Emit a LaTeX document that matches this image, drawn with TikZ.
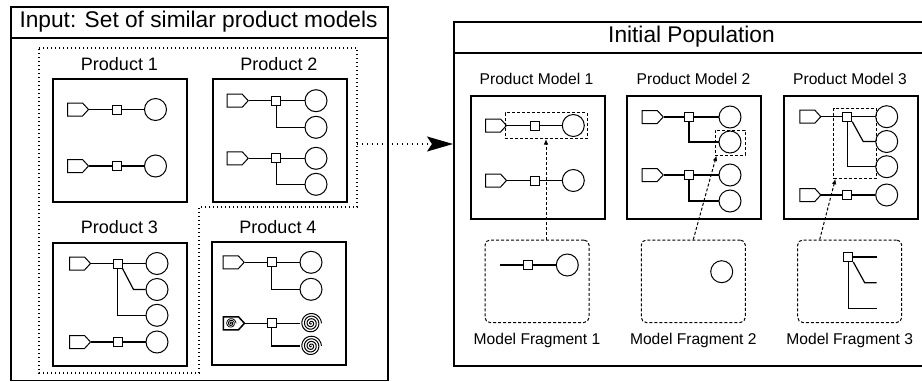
\documentclass[tikz,border=0pt]{standalone}
\usepackage{fontspec}
\setmainfont{Liberation Sans}
\usetikzlibrary{arrows.meta,shapes.symbols}

\tikzset{
  x=1pt, y=-1pt,
  panel/.style={draw, line width=1.5pt, rectangle, inner sep=0pt, anchor=north west},
  prodbox/.style={draw, line width=1.5pt, rectangle, inner sep=0pt,
    minimum width=134pt, minimum height=123pt, anchor=north west},
  port/.style={signal, signal to=east, signal pointer angle=95, draw, line width=1pt,
    minimum width=21pt, minimum height=13pt, inner sep=0pt, anchor=west},
  blk/.style={rectangle, draw, line width=1pt, minimum size=9pt, inner sep=0pt},
  res/.style={circle, draw, line width=1pt, minimum size=22pt, inner sep=0pt},
  coil/.style={circle, minimum size=22pt, inner sep=0pt,
    path picture={\begin{scope}[shift={(path picture bounding box.center)}]
      \draw[line width=1pt] plot[domain=0:1440, samples=180, smooth, variable=\t]
        (\t:{10.4*\t/1440});
    \end{scope}}},
  coilport/.style={port, line width=1.5pt,
    path picture={\begin{scope}[shift={([xshift=7.5pt]path picture bounding box.west)}]
      \draw[line width=0.8pt] plot[domain=0:1080, samples=140, smooth, variable=\t]
        (\t:{5*\t/1080});
    \end{scope}}},
  wire/.style={line width=1.2pt},
  titletext/.style={font=\fontsize{22.7}{27}\selectfont},
  plabel/.style={font=\fontsize{18}{21}\selectfont},
  mlabel/.style={font=\fontsize{15.6}{18}\selectfont},
  dotline/.style={line width=1.4pt, dash pattern=on 1.4pt off 2.6pt},
  dotarrow/.style={line width=1.4pt, dash pattern=on 1.4pt off 3.6pt,
    -{Stealth[length=26pt,width=15pt,inset=5pt]}},
  dashline/.style={line width=1pt, dash pattern=on 3pt off 2pt},
  selbox/.style={dashline, draw, rectangle, inner sep=0pt},
  fragbox/.style={dashline, draw, rectangle, rounded corners=5pt, inner sep=0pt,
    minimum width=104pt, minimum height=82.5pt},
  link/.style={dashline, -{Latex[length=5.5pt,width=4.5pt]}},
}

% one input -> block -> load chain
\newcommand\straightrow[5]{% prefix, y, port x, block x, load x
  \node[port] (#1p) at (#3,#2) {};
  \node[blk] (#1b) at (#4,#2) {};
  \node[res] (#1c) at (#5,#2) {};
  \draw[wire] (#1p.east) -- (#1b.west) (#1b.east) -- (#1c.west);
}
% right-angled branch from a block to a load
\newcommand\elbow[2]{\draw[wire] (#1.south) |- (#2.west);}
% slanted branch from a block to a load
\newcommand\slant[2]{\draw[wire] (#1.south east) -- ([xshift=-12pt]#2.west) -- (#2.west);}

\begin{document}
\begin{tikzpicture}
\useasboundingbox (0,0) rectangle (922,381);

% ---------------- input panel ----------------
\node[panel, minimum width=377pt, minimum height=373.5pt] (inpanel) at (10,6) {};
\draw[line width=1.5pt] (10,38) -- (387,38);
\node[titletext] (intitle) at (198.5,22) {Input: Set of similar product models};

% family of similar products
\draw[dotline] (39,48) -- (357,48) -- (357,207) -- (199,207) -- (199,373) -- (39,373) -- cycle;

% Product 1
\node[plabel] (lab1) at (119.5,64) {Product 1};
\begin{scope}[shift={(52,78)}]
  \node[prodbox] (prod1) at (0,0) {};
  \straightrow{pa}{31.5}{15}{65}{103.5}
  \straightrow{pb}{88}{15}{65}{103.5}
\end{scope}

% Product 2
\node[plabel] (lab2) at (279,64) {Product 2};
\begin{scope}[shift={(212,78)}]
  \node[prodbox] (prod2) at (0,0) {};
  \straightrow{qa}{22.7}{14.7}{64.3}{104}
  \node[res] (qa2) at (104,49.3) {};
  \elbow{qab}{qa2}
  \straightrow{qb}{80.3}{14.7}{64.3}{104}
  \node[res] (qb2) at (104,106.3) {};
  \elbow{qbb}{qb2}
\end{scope}

% Product 3
\node[plabel] (lab3) at (119.5,226.7) {Product 3};
\begin{scope}[shift={(52,242)}]
  \node[prodbox] (prod3) at (0,0) {};
  \straightrow{ra}{21.5}{17}{65.5}{105}
  \node[res] (ra2) at (105,47.5) {};
  \node[res] (ra3) at (105,73.3) {};
  \slant{rab}{ra2}
  \elbow{rab}{ra3}
  \straightrow{rb}{100}{17}{65.5}{105}
\end{scope}

% Product 4
\node[plabel] (lab4) at (278,226.7) {Product 4};
\begin{scope}[shift={(211,241)}]
  \node[prodbox] (prod4) at (0,0) {};
  \straightrow{sa}{21.3}{11.7}{60.7}{100}
  \node[res] (sa2) at (100,48.3) {};
  \elbow{sab}{sa2}
  \node[coilport] (sbp) at (11.7,82.3) {};
  \node[blk] (sbb) at (60.7,82.3) {};
  \node[coil] (sbc) at (100,82.3) {};
  \node[coil] (sb2) at (100,105) {};
  \draw[wire] (sbp.east) -- (sbb.west) (sbb.east) -- (sbc.west);
  \elbow{sbb}{sb2}
\end{scope}

% ---------------- initial population panel ----------------
\node[panel, minimum width=477pt, minimum height=344pt] (poppanel) at (453,21) {};
\draw[line width=1.5pt] (453,53) -- (930,53);
\node[titletext] (poptitle) at (691.5,37) {Initial Population};

\coordinate (setedge) at (357,144);
\draw[dotarrow] (setedge) -- (setedge -| poppanel.west);

% Product Model 1
\node[mlabel] (mlab1) at (536.5,79.3) {Product Model 1};
\begin{scope}[shift={(470,95)}]
  \node[prodbox] (pm1) at (0,0) {};
  \straightrow{ua}{30.5}{15}{64.7}{103.3}
  \straightrow{ub}{85.5}{15}{64.7}{103.3}
\end{scope}
\node[selbox, minimum width=82pt, minimum height=26pt] (sel1) at (546,125.5) {};

% Product Model 2
\node[mlabel] (mlab2) at (693.5,79.3) {Product Model 2};
\begin{scope}[shift={(626,95)}]
  \node[prodbox] (pm2) at (0,0) {};
  \straightrow{va}{22}{15.7}{63}{104}
  \node[res] (va2) at (104,47) {};
  \elbow{vab}{va2}
  \straightrow{vb}{80}{15.7}{63}{104}
  \node[res] (vb2) at (104,106) {};
  \elbow{vbb}{vb2}
\end{scope}
\node[selbox, minimum width=30pt, minimum height=25pt] (sel2) at (730,142.5) {};

% Product Model 3
\node[mlabel] (mlab3) at (850,79.3) {Product Model 3};
\begin{scope}[shift={(783,95)}]
  \node[prodbox] (pm3) at (0,0) {};
  \straightrow{wa}{21.7}{16.3}{64.3}{103.7}
  \node[res] (wa2) at (103.7,46.5) {};
  \node[res] (wa3) at (103.7,71.7) {};
  \slant{wab}{wa2}
  \elbow{wab}{wa3}
  \straightrow{wb}{100}{16.3}{64.3}{103.7}
\end{scope}
\node[selbox, minimum width=42.7pt, minimum height=70pt] (sel3) at (855.3,143.3) {};

% Model fragments
\node[fragbox] (mf1) at (537,281.25) {};
\node[mlabel] (flab1) at (537,340) {Model Fragment 1};
\coordinate (f1end) at (500,265);
\node[blk] (f1b) at (528.3,265) {};
\node[res] (f1c) at (567.3,265) {};
\draw[wire] (f1end) -- (f1b.west) (f1b.east) -- (f1c.west);

\node[fragbox] (mf2) at (693.3,281.25) {};
\node[mlabel] (flab2) at (693.3,340) {Model Fragment 2};
\node[res] (f2c) at (721.7,271.7) {};

\node[fragbox] (mf3) at (849.7,281.25) {};
\node[mlabel] (flab3) at (849.7,340) {Model Fragment 3};
\node[blk] (f3b) at (848.3,257) {};
\coordinate (f3e1) at (876.7,257);
\coordinate (f3e2) at (876.7,282.7);
\coordinate (f3e3) at (876.7,308.3);
\draw[wire] (f3b.east) -- (f3e1);
\draw[wire] (f3b.south east) -- ([xshift=-12pt]f3e2) -- (f3e2);
\draw[wire] (f3b.south) |- (f3e3);

% where each fragment sits in its model
\draw[link] (mf1.north -| sel1.south) -- (sel1.south);
\draw[link] (mf2.north) -- ([xshift=2pt]sel2.south west);
\draw[link] ([xshift=-30pt]mf3.north) -- ([xshift=2pt]sel3.south west);
\end{tikzpicture}
\end{document}
